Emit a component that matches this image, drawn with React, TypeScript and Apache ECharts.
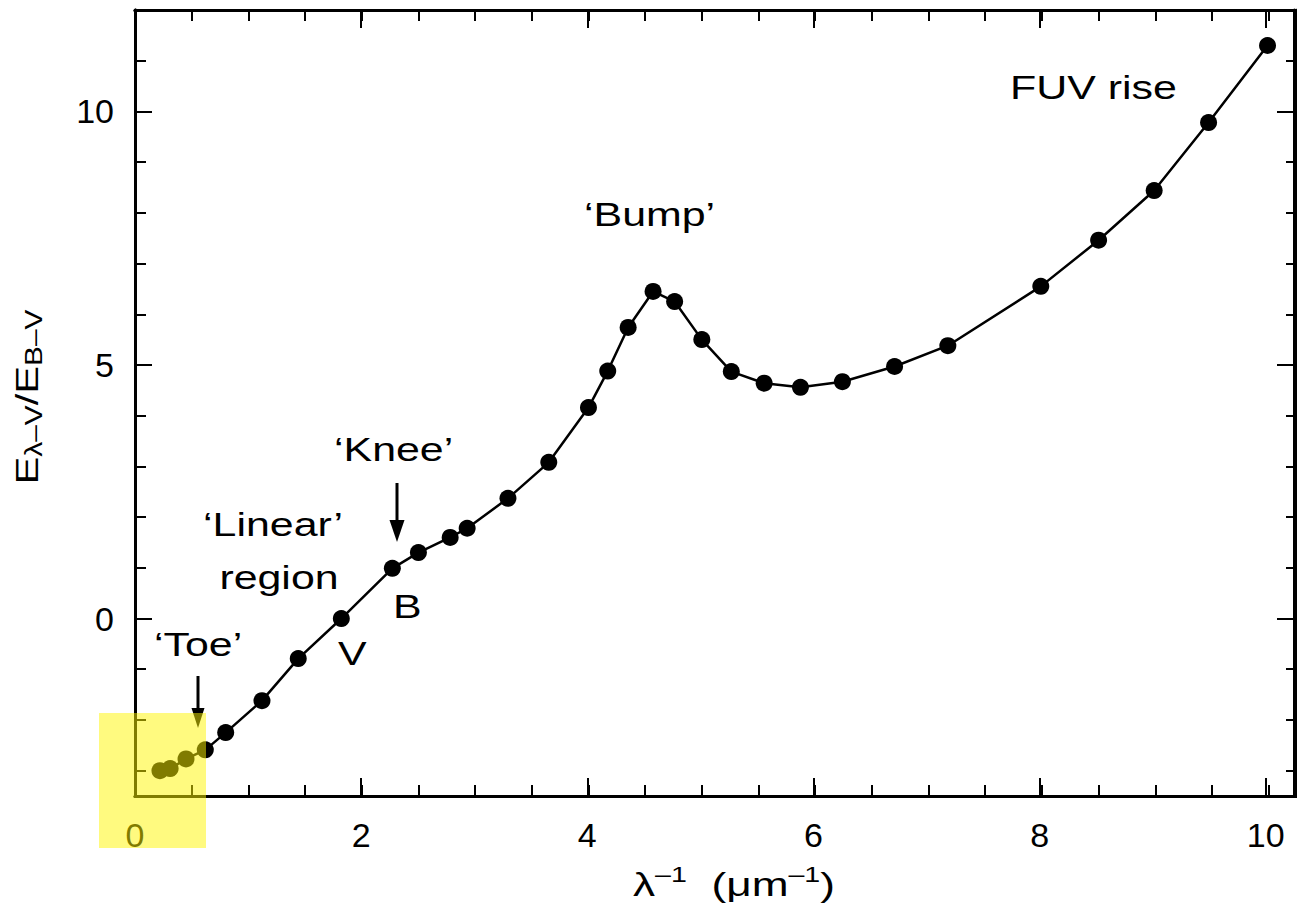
import React, { useEffect, useRef } from 'react';
import * as echarts from 'echarts';

// Interstellar extinction curve: colour excess ratio against inverse wavelength
const waveNumber = [
  0.22, 0.31, 0.45, 0.62, 0.8, 1.12, 1.44, 1.82, 2.27, 2.5, 2.78, 2.93, 3.29, 3.65, 4.0, 4.17,
  4.35, 4.57, 4.76, 5.0, 5.26, 5.55, 5.87, 6.24, 6.7, 7.17, 7.99, 8.5, 8.99, 9.47, 9.99,
];
const colourExcess = [
  -3.0, -2.96, -2.77, -2.59, -2.25, -1.62, -0.79, 0.0, 0.99, 1.3, 1.6, 1.78, 2.37, 3.08, 4.16, 4.88,
  5.74, 6.45, 6.25, 5.5, 4.87, 4.64, 4.56, 4.67, 4.97, 5.38, 6.55, 7.46, 8.44, 9.78, 11.3,
];

const xRange = [0, 10.25];
const yRange = [-3.5, 12];
const xLabelStep = 2;
const xMinorStep = 0.5;
const yLabelStep = 5;
const yMinorStep = 1;

const FONT = '"Liberation Sans", Arial, Helvetica, sans-serif';
const INK = '#000';

export default function App() {
  const ref = useRef<HTMLDivElement>(null);

  useEffect(() => {
    if (!ref.current) return;
    const chart = echarts.init(ref.current, null, { renderer: 'svg' });

    const plotRect = { left: 135, top: 10, width: 1163, height: 786 };
    const axisLine = { show: true, onZero: false, lineStyle: { color: INK, width: 3 } };

    const onStep = (v: number, step: number) => Math.abs(v / step - Math.round(v / step)) < 1e-6;

    const makeX = (gridIndex: number, position: string, step: number, tickLen: number, labels: boolean) => ({
      type: 'value',
      gridIndex,
      position,
      min: xRange[0],
      max: xRange[1],
      minInterval: step,
      maxInterval: step,
      axisLine,
      axisTick: { show: true, inside: true, length: tickLen, lineStyle: { color: INK, width: 2 } },
      axisLabel: labels
        ? {
            show: true,
            margin: 22,
            color: INK,
            fontSize: 34,
            fontFamily: FONT,
            formatter: (v: number) => (onStep(v, xLabelStep) && v <= 10 ? String(v) : ''),
          }
        : { show: false },
      splitLine: { show: false },
    });

    const makeY = (gridIndex: number, position: string, step: number, tickLen: number, labels: boolean) => ({
      type: 'value',
      gridIndex,
      position,
      min: yRange[0],
      max: yRange[1],
      minInterval: step,
      maxInterval: step,
      axisLine,
      axisTick: { show: true, inside: true, length: tickLen, lineStyle: { color: INK, width: 2 } },
      axisLabel: labels
        ? {
            show: true,
            margin: 21,
            color: INK,
            fontSize: 34,
            fontFamily: FONT,
            formatter: (v: number) => (onStep(v, yLabelStep) ? String(v) : ''),
          }
        : { show: false },
      splitLine: { show: false },
    });

    const stretch = 1.3;
    const annotation = (text: string, x: number, y: number, align = 'left') => ({
      type: 'text',
      x,
      y,
      scaleX: stretch,
      z: 50,
      style: { text, fill: INK, font: `33px ${FONT}`, align, verticalAlign: 'middle' },
    });

    const arrow = (x: number, y0: number, y1: number, headLen: number, headW: number) => ({
      type: 'group',
      z: 50,
      children: [
        { type: 'line', shape: { x1: x, y1: y0, x2: x, y2: y1 - headLen + 1 }, style: { stroke: INK, lineWidth: 3 } },
        {
          type: 'polygon',
          shape: { points: [[x - headW / 2, y1 - headLen], [x + headW / 2, y1 - headLen], [x, y1]] },
          style: { fill: INK },
        },
      ],
    });

    chart.setOption({
      animation: false,
      grid: [
        { ...plotRect, containLabel: false },
        { ...plotRect, containLabel: false },
      ],
      xAxis: [
        makeX(0, 'bottom', xMinorStep, 11, false),
        makeX(0, 'top', xMinorStep, 11, false),
        makeX(1, 'bottom', xLabelStep, 18, true),
        makeX(1, 'top', xLabelStep, 18, false),
      ],
      yAxis: [
        makeY(0, 'left', yMinorStep, 11, false),
        makeY(0, 'right', yMinorStep, 11, false),
        makeY(1, 'left', yLabelStep, 17, true),
        makeY(1, 'right', yLabelStep, 17, false),
      ],
      series: [
        {
          type: 'line',
          xAxisIndex: 0,
          yAxisIndex: 0,
          data: waveNumber.map((x, i) => [x, colourExcess[i]]),
          symbol: 'circle',
          symbolSize: 17,
          showSymbol: true,
          itemStyle: { color: INK },
          lineStyle: { color: INK, width: 2.5 },
          z: 10,
        },
      ],
      graphic: [
        annotation('FUV rise', 1010, 87),
        annotation('‘Bump’', 584, 214),
        annotation('‘Knee’', 334, 449),
        annotation('‘Linear’', 273, 524, 'center'),
        annotation('region', 279, 577, 'center'),
        annotation('B', 393, 606),
        annotation('V', 338, 653),
        annotation('‘Toe’', 154, 644),
        arrow(397, 483, 542, 22, 15),
        arrow(198, 676, 728, 20, 13),
        {
          type: 'text',
          x: 734,
          y: 884,
          scaleX: 1.3,
          z: 50,
          style: {
            text: '{m|λ}{p|–1}{m|  (μm}{p|–1}{m|)}',
            align: 'center',
            verticalAlign: 'middle',
            fill: INK,
            rich: {
              m: { fontSize: 34, fontFamily: FONT, lineHeight: 42, fill: INK },
              p: { fontSize: 22, fontFamily: FONT, lineHeight: 24, verticalAlign: 'top', fill: INK },
            },
          },
        },
        {
          type: 'text',
          x: 27,
          y: 397,
          rotation: Math.PI / 2,
          scaleX: 1.3,
          z: 50,
          style: {
            text: '{m|E}{s|λ–V}{m|/E}{s|B–V}',
            align: 'center',
            verticalAlign: 'middle',
            fill: INK,
            rich: {
              m: { fontSize: 32, fontFamily: FONT, lineHeight: 38, fill: INK },
              s: { fontSize: 23, fontFamily: FONT, lineHeight: 25, verticalAlign: 'bottom', fill: INK },
            },
          },
        },
        {
          type: 'rect',
          shape: { x: 99, y: 713, width: 107, height: 135 },
          style: { fill: 'rgba(255, 245, 0, 0.5)' },
          z: 100,
        },
      ],
    });

    return () => chart.dispose();
  }, []);

  return (
    <div
      ref={ref}
      style={{ position: 'fixed', left: 0, top: 0, width: 1297, height: 912, background: '#fff' }}
    />
  );
}
